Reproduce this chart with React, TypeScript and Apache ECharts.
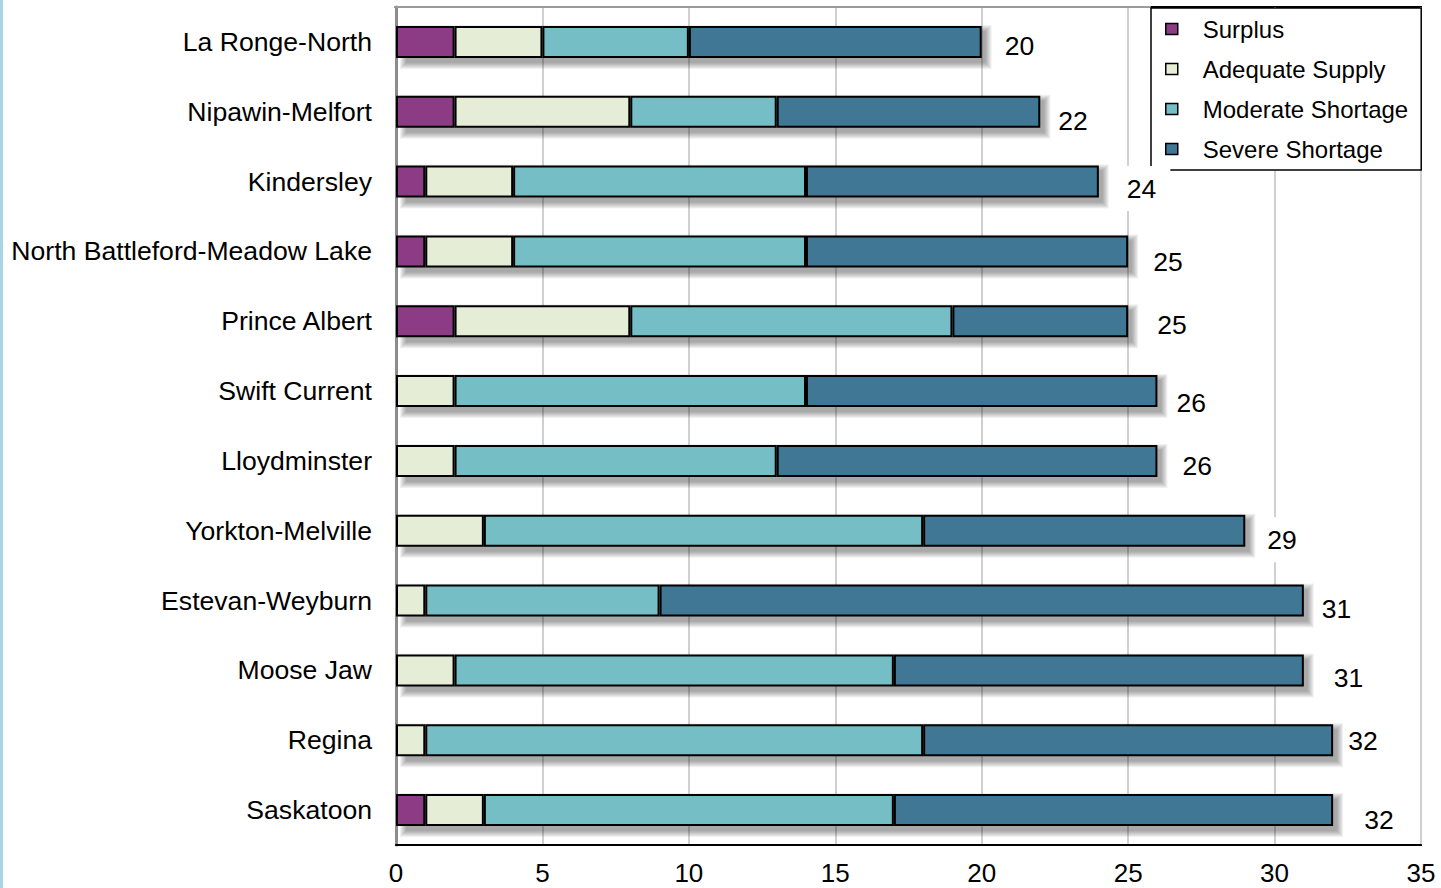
import React, { useEffect, useRef } from "react";
import * as echarts from "echarts";

const categories = [
  "La Ronge-North",
  "Nipawin-Melfort",
  "Kindersley",
  "North Battleford-Meadow Lake",
  "Prince Albert",
  "Swift Current",
  "Lloydminster",
  "Yorkton-Melville",
  "Estevan-Weyburn",
  "Moose Jaw",
  "Regina",
  "Saskatoon",
];
const surplus = [2, 2, 1, 1, 2, 0, 0, 0, 0, 0, 0, 1];
const adequate = [3, 6, 3, 3, 6, 2, 2, 3, 1, 2, 1, 2];
const moderate = [5, 5, 10, 10, 11, 12, 11, 15, 8, 15, 17, 14];
const severe = [10, 9, 10, 11, 6, 12, 13, 11, 22, 14, 14, 15];
const xTicks = { min: 0, max: 35, interval: 5 };

// label placement tweaks (style only): [gap to bar end, vertical shift]
const labelOffsets = [
  [23, 4], [18, 9], [28, 7], [25, 11], [29, 4], [19, 12],
  [25, 5], [22, 9], [18, 8], [30, 8], [15, 1], [31, 10],
];

const FONT = "'Liberation Sans', Arial, sans-serif";
const COLORS = ["#8B3C84", "#E6EDD7", "#75BEC6", "#3F7794"];
const BAR_W = 32;

export default function App() {
  const ref = useRef<HTMLDivElement>(null);

  useEffect(() => {
    if (!ref.current) return;
    const chart = echarts.init(ref.current, null, { renderer: "svg" });
    const totals = categories.map(
      (_, i) => surplus[i] + adequate[i] + moderate[i] + severe[i]
    );
    const toData = (arr: number[]) => arr.map((v) => (v === 0 ? "-" : v));
    const names = ["Surplus", "Adequate Supply", "Moderate Shortage", "Severe Shortage"];
    const arrays = [surplus, adequate, moderate, severe];

    const series: any[] = [
      {
        name: "shadow",
        type: "custom",
        z: 1,
        silent: true,
        encode: { x: 0, y: 1 },
        data: totals.map((t, i) => [t, i]),
        renderItem: (params: any, api: any) => {
          const idx = api.value(1);
          const p0 = api.coord([0, idx]);
          const p1 = api.coord([api.value(0), idx]);
          const ox = 4;
          const oy = 5;
          const children: any[] = [];
          for (let k = 6; k >= 0; k--) {
            children.push({
              type: "rect",
              shape: {
                x: p0[0] + ox - k + 6,
                y: p0[1] - BAR_W / 2 + oy - k,
                width: p1[0] - p0[0] - 6 + 2 * k,
                height: BAR_W + 2 * k,
              },
              style: { fill: "rgba(0,0,0,0.055)" },
            });
          }
          return { type: "group", children };
        },
      },
      ...arrays.map((arr, si) => {
        const s: any = {
          name: names[si],
          type: "bar",
          stack: "total",
          barWidth: BAR_W,
          z: 2,
          itemStyle: { color: COLORS[si], borderColor: "#000", borderWidth: 2 },
          data: toData(arr),
        };
        if (si === 3) {
          s.z = 5;
          s.data = arr.map((v, i) => ({
            value: v,
            label: {
              offset: [labelOffsets[i][0] - 4, labelOffsets[i][1]],
            },
          }));
          s.label = {
            show: true,
            position: "right",
            distance: 0,
            padding: [9, 14, 9, 4],
            backgroundColor: "#fff",
            color: "#000",
            fontSize: 26.5,
            fontFamily: FONT,
            formatter: (p: any) => String(totals[p.dataIndex]),
          };
        }
        return s;
      }),
    ];

    chart.setOption({
      animation: false,
      textStyle: { fontFamily: FONT },
      grid: {
        left: 396,
        right: 20,
        top: 7,
        bottom: 43,
        show: true,
        borderColor: "#000",
        borderWidth: 2,
        backgroundColor: "#fff",
      },
      legend: {
        data: names,
        orient: "vertical",
        left: 1151,
        top: 8,
        itemWidth: 12,
        itemHeight: 11,
        itemGap: 12,
        padding: [7, 13, 7, 14],
        backgroundColor: "#fff",
        borderColor: "#000",
        borderWidth: 1.5,
        icon: "rect",
        itemStyle: { borderColor: "#000", borderWidth: 1.5 },
        textStyle: {
          fontSize: 24,
          lineHeight: 28,
          color: "#000",
          fontFamily: FONT,
          padding: [0, 0, 0, 20],
        },
      },
      xAxis: {
        type: "value",
        min: xTicks.min,
        max: xTicks.max,
        interval: xTicks.interval,
        axisLine: { show: true, lineStyle: { color: "#000", width: 2 } },
        axisTick: { show: false },
        axisLabel: { fontSize: 26, color: "#000", margin: 15, fontFamily: FONT },
        splitLine: { show: true, lineStyle: { color: "#d0d0d0", width: 2 } },
      },
      yAxis: {
        type: "category",
        data: categories,
        inverse: true,
        axisLine: { show: true, lineStyle: { color: "#8c8c8c", width: 3 } },
        axisTick: { show: false },
        axisLabel: { fontSize: 26.6, color: "#000", margin: 24, fontFamily: FONT },
        splitLine: { show: false },
      },
      graphic: [
        {
          type: "rect",
          left: 0,
          top: 0,
          shape: { width: 3, height: 888 },
          style: { fill: "#a9d4e4" },
        },
        {
          type: "line",
          shape: { x1: 394, y1: 7, x2: 1151, y2: 7 },
          style: { stroke: "#9a9a9a", lineWidth: 2 },
          z: 3,
        },
      ],
      series,
    });

    return () => chart.dispose();
  }, []);

  return (
    <div
      ref={ref}
      style={{ position: "absolute", left: 0, top: 0, width: 1441, height: 888, background: "#fff" }}
    />
  );
}
